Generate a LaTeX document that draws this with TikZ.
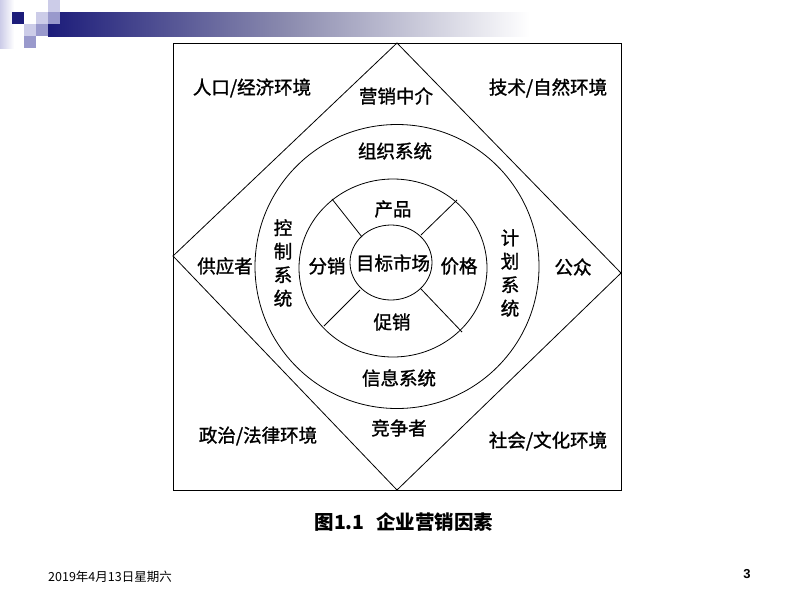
\documentclass[tikz,border=0pt]{standalone}
\usepackage{fontspec}
\setmainfont{Liberation Sans}
\newfontfamily\cjk[FakeBold=1.3]{Noto Sans CJK SC}
\newfontfamily\cjkplain{Noto Sans CJK SC}
\definecolor{navy}{RGB}{28,28,122}
\definecolor{lavA}{RGB}{204,204,232}
\definecolor{lavB}{RGB}{153,153,204}
\begin{document}
\begin{tikzpicture}[x=1pt,y=-1pt,
  lbl/.style={font=\cjk\fontsize{18.5}{23.5}\selectfont, inner sep=0pt, align=center},
  ln/.style={line width=0.8pt, black}]
\useasboundingbox (0,0) rectangle (800,600);
\fill[white] (0,0) rectangle (800,600);
% header decoration
\shade[left color=lavA, right color=white] (0,0) rectangle (14,48);
\shade[left color=navy, right color=white, middle color={rgb,255:red,140;green,140;blue,175}] (48,12) rectangle (530,36);
\fill[navy] (12,12) rectangle (24,24);
\fill[lavA] (36,12) rectangle (48,24);
\fill[lavA] (48,0) rectangle (60,12);
\fill[lavB] (48,12) rectangle (60,24);
\fill[lavA] (24,24) rectangle (36,36);
\fill[lavB] (36,24) rectangle (48,36);
\fill[lavB] (24,36) rectangle (36,48);
% frame and diamond
\draw[ln] (173,43) rectangle (621,490);
\coordinate (dt) at (397,43);
\coordinate (dr) at (621,273);
\coordinate (db) at (397,490);
\coordinate (dl) at (173,256);
\draw[ln] (dt) -- (dr) -- (db) -- (dl) -- cycle;
% circles
\draw[ln] (397,266.5) circle[radius=142pt];
\draw[ln] (393,268) ellipse[x radius=94pt, y radius=89pt];
\draw[ln] (391,262.5) ellipse[x radius=41pt, y radius=37.5pt];
% dividers
\coordinate (a1) at (332,199); \coordinate (a2) at (362,237);
\coordinate (b1) at (457,200); \coordinate (b2) at (421,235);
\coordinate (c1) at (324,326); \coordinate (c2) at (360,290);
\coordinate (d1) at (462,332); \coordinate (d2) at (421,289);
\draw[ln] (a1) -- (a2);
\draw[ln] (b1) -- (b2);
\draw[ln] (c1) -- (c2);
\draw[ln] (d1) -- (d2);
% labels
\node[lbl] (renkou) at (252,88) {人口/经济环境};
\node[lbl] (zhongjie) at (396,96) {营销中介};
\node[lbl] (jishu) at (548,88) {技术/自然环境};
\node[lbl] (zuzhi) at (395,151) {组织系统};
\node[lbl] (chanpin) at (393,209) {产品};
\node[lbl] (kongzhi) at (283,263) {控\\制\\系\\统};
\node[lbl] (jihua) at (510,273) {计\\划\\系\\统};
\node[lbl] (gongying) at (225,266) {供应者};
\node[lbl] (fenxiao) at (327,266) {分销};
\node[lbl] (mubiao) at (393,263) {目标市场};
\node[lbl] (jiage) at (459,266) {价格};
\node[lbl] (gongzhong) at (573,267) {公众};
\node[lbl] (cuxiao) at (392,322) {促销};
\node[lbl] (xinxi) at (399,378) {信息系统};
\node[lbl] (jingzheng) at (399,428) {竞争者};
\node[lbl] (zhengzhi) at (258,436) {政治/法律环境};
\node[lbl] (shehui) at (548,441) {社会/文化环境};
% caption
\node[inner sep=0pt, font=\cjkplain\bfseries\fontsize{19.5}{22}\selectfont] (cap) at (404,522) {图1.1\hspace{0.6em}企业营销因素};
% footer
\node[inner sep=0pt, anchor=west, font=\cjkplain\fontsize{12.5}{14}\selectfont] (date) at (48,577) {2019年4月13日星期六};
\node[inner sep=0pt, font=\bfseries\fontsize{13}{15}\selectfont] (page) at (747,574) {3};
\end{tikzpicture}
\end{document}
